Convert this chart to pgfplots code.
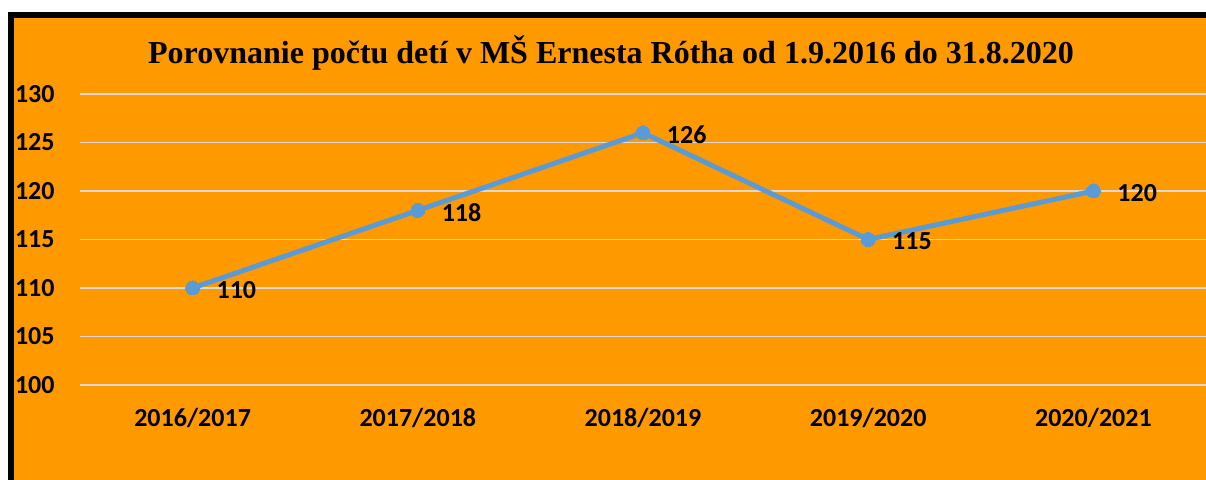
\documentclass[border=0pt]{standalone}
\usepackage{fontspec}
\setmainfont{Carlito}
\newfontfamily\titlefont{Liberation Serif}
\usepackage{pgfplots}
\pgfplotsset{compat=1.18}
\definecolor{bgorange}{RGB}{255,153,0}
\definecolor{linecol}{RGB}{91,155,213}
\definecolor{gridcol}{RGB}{217,217,217}
\begin{document}
\begin{tikzpicture}
\useasboundingbox (0,0) rectangle (603pt,240pt);
\fill[white] (0,0) rectangle (603pt,240pt);
\fill[bgorange] (4pt,0) rectangle (606pt,234pt);
\fill[black] (4pt,0) rectangle (7pt,234pt);
\fill[black] (4pt,231pt) rectangle (606pt,234pt);
\node[font=\titlefont\bfseries\fontsize{16}{19}\selectfont, anchor=center] at (305.5pt,213.5pt) {Porovnanie počtu detí v MŠ Ernesta Rótha od 1.9.2016 do 31.8.2020};
\begin{axis}[
  at={(40pt,47.5pt)}, anchor=south west,
  width=563pt, height=145.5pt, scale only axis,
  xmin=-0.5, xmax=4.5, ymin=100, ymax=130,
  xtick={0,1,2,3,4},
  xticklabels={2016/2017,2017/2018,2018/2019,2019/2020,2020/2021},
  ytick={100,105,110,115,120,125,130},
  ymajorgrids,
  grid style={color=gridcol, line width=0.75pt},
  axis line style={draw=none},
  major tick length=0pt,
  tick style={draw=none},
  /pgf/number format/assume math mode=true,
  tick label style={font=\bfseries\fontsize{13}{15}\selectfont},
  yticklabel style={anchor=east, inner sep=0pt, xshift=-12.5pt},
  xticklabel style={anchor=center, inner sep=0pt, yshift=-16.5pt},
  clip=false,
]
\addplot[color=linecol, line width=2.5pt, mark=*, mark size=3.5pt,
  mark options={fill=linecol, draw=linecol, line width=0pt},
  nodes near coords,
  every node near coord/.append style={anchor=west, inner sep=0pt, xshift=12pt, yshift=-1pt, text=black, font=\bfseries\fontsize{13}{15}\selectfont}]
coordinates {(0,110) (1,118) (2,126) (3,115) (4,120)};
\end{axis}
\end{tikzpicture}
\end{document}
